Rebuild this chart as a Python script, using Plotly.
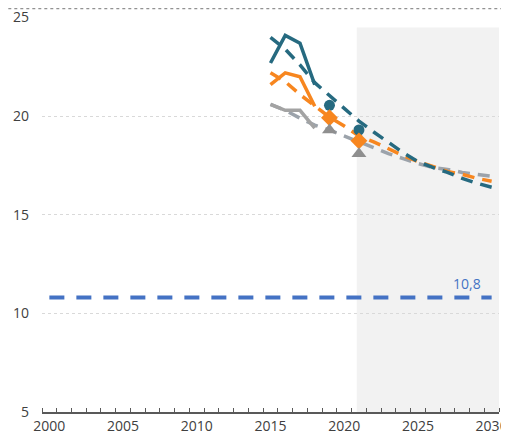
import plotly.graph_objects as go

# data
hist_years = [2015, 2016, 2017, 2018]
teal_hist = [22.7, 24.1, 23.7, 21.6]
orange_hist = [21.6, 22.2, 22.0, 20.5]
gray_hist = [20.6, 20.3, 20.3, 19.4]

proj_years = list(range(2015, 2031))
teal_proj = [24.0, 23.4, 22.6, 21.7, 21.05, 20.4, 19.75, 19.2, 18.65, 18.15,
             17.7, 17.4, 17.15, 16.85, 16.6, 16.4]
orange_proj = [22.2, 21.75, 21.1, 20.5, 19.95, 19.5, 19.0, 18.7, 18.35, 18.0,
               17.7, 17.45, 17.2, 17.05, 16.85, 16.7]
gray_proj = [20.6, 20.3, 19.9, 19.55, 19.3, 19.0, 18.7, 18.4, 18.1, 17.85,
             17.6, 17.4, 17.3, 17.15, 17.05, 16.95]

point_years = [2019, 2021]
teal_pts = [20.55, 19.3]
orange_pts = [19.92, 18.75]
gray_pts = [19.3, 18.1]

target_years = [2000, 2030]
target = 10.8
target_label = "10,8"

TEAL = "#266A80"
ORANGE = "#F7861F"
GRAY = "#A3A3A3"
GRAY_D = "#9CA3AB"
GRAY_M = "#8F8F8F"
BLUE = "#4472C4"

fig = go.Figure()

# shaded projection period
fig.add_shape(type="rect", xref="x", yref="y", x0=2020.85, x1=2030.5, y0=5, y1=24.5,
              fillcolor="#F2F2F2", line_width=0, layer="below")

fig.add_trace(go.Scatter(x=target_years, y=[target, target], mode="lines",
                         line=dict(color=BLUE, width=4, dash="15px,12px")))

for ys, col in [(gray_proj, GRAY_D), (orange_proj, ORANGE), (teal_proj, TEAL)]:
    fig.add_trace(go.Scatter(x=proj_years, y=ys, mode="lines",
                             line=dict(color=col, width=3.5, dash="12px,8px")))

for ys, col in [(gray_hist, GRAY), (orange_hist, ORANGE), (teal_hist, TEAL)]:
    fig.add_trace(go.Scatter(x=hist_years, y=ys, mode="lines",
                             line=dict(color=col, width=3.5)))

fig.add_trace(go.Scatter(x=point_years, y=teal_pts, mode="markers",
                         marker=dict(symbol="circle", size=11, color=TEAL)))
fig.add_trace(go.Scatter(x=point_years, y=orange_pts, mode="markers",
                         marker=dict(symbol="diamond", size=13, color=ORANGE)))
fig.add_trace(go.Scatter(x=point_years, y=gray_pts, mode="markers",
                         marker=dict(symbol="triangle-up", size=13, color=GRAY_M)))

fig.add_annotation(x=2028.3, y=target, yshift=14, text=target_label, showarrow=False,
                   font=dict(color=BLUE, size=14))

# dotted border at top of the figure
fig.add_shape(type="line", xref="paper", yref="paper", x0=-0.1, x1=1.1, y0=1.021, y1=1.021,
              line=dict(color="#777777", width=1, dash="dot"))

# page body adds an 8px offset, so the figure is shifted to line up with the window
fig.update_layout(
    width=509, height=431,
    margin=dict(l=34, r=18, t=9, b=27),
    plot_bgcolor="white", paper_bgcolor="white",
    showlegend=False,
    font=dict(family="Open Sans", size=14, color="#404040"),
    xaxis=dict(range=[1999.5, 2030.5], tickvals=[2000, 2005, 2010, 2015, 2020, 2025, 2030],
               showgrid=False, zeroline=False, showline=True, linecolor="#595959", linewidth=1.5,
               ticks="", ticklen=0, automargin=False, ticklabeloverflow="allow",
               minor=dict(tick0=1999.5, dtick=1, ticks="inside", ticklen=4,
                          tickcolor="#595959", showgrid=False)),
    yaxis=dict(range=[5, 25.03], tickvals=[5, 10, 15, 20, 25], showgrid=True,
               gridcolor="#D9D9D9", griddash="dot", gridwidth=1, zeroline=False,
               showline=False, ticks="", ticklabelstandoff=12, automargin=False,
               ticklabeloverflow="allow"),
)

fig.write_html("out.html")
